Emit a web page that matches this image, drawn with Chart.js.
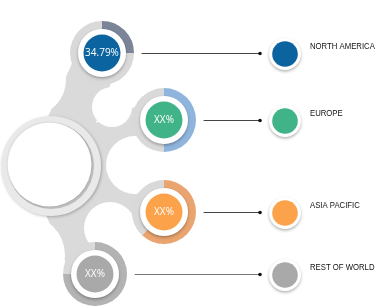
<!DOCTYPE html>
<html>
<head>
<meta charset="utf-8">
<script src="https://cdn.jsdelivr.net/npm/chart.js@4"></script>
<style>
  html, body { margin: 0; padding: 0; background: #fff; }
  #wrap { position: relative; width: 391px; height: 306px; overflow: hidden; }
  #wrap canvas { position: absolute; }
</style>
</head>
<body>
<div id="wrap">
  <canvas id="bg" width="391" height="306" style="left:0;top:0"></canvas>
</div>
<script>
// regions of the infographic
const regions = ['NORTH AMERICA', 'EUROPE', 'ASIA PACIFIC', 'REST OF WORLD'];
// text inside each bubble
const shareLabels = ['34.79%', 'XX%', 'XX%', 'XX%'];
// filled part of each ring, percent
const ringValues = [25, 50, 62, 75];

// styles
const fillColors = ['#0b64a0', '#40b389', '#fca24b', '#a9a9a9'];
const arcColors = ['#7b8597', '#8fb5dd', '#e9a46f', '#b3b3b3'];
const restColor = '#d9d9d9';
const linkColor = '#dadada';

// layout (pixels)
const nodes = [{x: 102, y: 53}, {x: 164, y: 120}, {x: 164, y: 212}, {x: 95, y: 274}];
const hub = {x: 51, y: 166, r: 50, inner: 42};
const bites = [
    {x: 30, y: 80, r: 36},
    {x: 112, y: 107, r: 20},
    {x: 125, y: 91, r: 16},
    {x: 135, y: 165, r: 29},
    {x: 110, y: 228, r: 26},
    {x: 25, y: 255, r: 40}
];
const dotX = 260, legendX = 285, labelX = 310;

function circle(ctx, x, y, r, color) {
    ctx.beginPath();
    ctx.arc(x, y, r, 0, Math.PI * 2);
    ctx.fillStyle = color;
    ctx.fill();
}

// background: links, hub, leader lines, legend
const backdrop = {
    id: 'backdrop',
    beforeDraw(chart) {
        const ctx = chart.ctx;
        ctx.save();

        // links from hub to each bubble
        ctx.strokeStyle = linkColor;
        ctx.lineWidth = 46;
        ctx.lineCap = 'round';
        nodes.forEach(n => {
            ctx.beginPath();
            ctx.moveTo(hub.x, hub.y);
            ctx.lineTo(n.x, n.y);
            ctx.stroke();
        });
        bites.forEach(b => circle(ctx, b.x, b.y, b.r, '#fff'));

        // hub
        ctx.save();
        ctx.shadowColor = 'rgba(0,0,0,0.25)';
        ctx.shadowBlur = 3;
        ctx.shadowOffsetX = 1;
        ctx.shadowOffsetY = 1;
        circle(ctx, hub.x, hub.y, hub.r, '#e9e9e9');
        ctx.restore();
        circle(ctx, hub.x, hub.y, hub.inner + 1, '#bdbdbd');
        ctx.save();
        ctx.shadowColor = 'rgba(0,0,0,0.2)';
        ctx.shadowBlur = 2;
        circle(ctx, hub.x - 1.5, hub.y - 1.5, hub.inner, '#fff');
        ctx.restore();

        // leader lines and legend
        regions.forEach((name, i) => {
            const n = nodes[i];
            ctx.strokeStyle = i === 3 ? '#777' : '#444';
            ctx.lineWidth = 1;
            ctx.beginPath();
            ctx.moveTo(n.x + 40, n.y + 0.5);
            ctx.lineTo(dotX, n.y + 0.5);
            ctx.stroke();
            circle(ctx, dotX, n.y + 0.5, 1.8, '#111');

            ctx.save();
            ctx.shadowColor = 'rgba(0,0,0,0.3)';
            ctx.shadowBlur = 3;
            ctx.shadowOffsetY = 1.5;
            circle(ctx, legendX, n.y + 1, 16, '#fff');
            ctx.restore();
            circle(ctx, legendX, n.y + 1, 12.8, fillColors[i]);

            // narrow label
            ctx.save();
            ctx.translate(labelX, n.y - 6);
            ctx.scale(0.86, 1);
            ctx.fillStyle = '#111';
            ctx.font = '9px "Liberation Sans", sans-serif';
            ctx.textAlign = 'left';
            ctx.textBaseline = 'middle';
            ctx.fillText(name, 0, 0);
            ctx.restore();
        });
        ctx.restore();
    }
};

new Chart(document.getElementById('bg'), {
    type: 'scatter',
    data: {datasets: []},
    options: {
        responsive: false,
        animation: false,
        scales: {x: {display: false}, y: {display: false}},
        plugins: {legend: {display: false}, tooltip: {enabled: false}}
    },
    plugins: [backdrop]
});

// one ring per region
const wrap = document.getElementById('wrap');
nodes.forEach((n, i) => {
    const c = document.createElement('canvas');
    c.width = 70;
    c.height = 70;
    c.style.left = (n.x - 35) + 'px';
    c.style.top = (n.y - 35) + 'px';
    wrap.appendChild(c);

    new Chart(c, {
        type: 'doughnut',
        data: {
            labels: [regions[i], 'rest'],
            datasets: [{
                data: [ringValues[i], 100 - ringValues[i]],
                backgroundColor: [arcColors[i], restColor],
                borderWidth: 0
            }]
        },
        options: {
            responsive: false,
            animation: false,
            cutout: '74%',
            layout: {padding: 3},
            plugins: {legend: {display: false}, tooltip: {enabled: false}}
        },
        plugins: [{
            id: 'bubble',
            afterDraw(chart) {
                const ctx = chart.ctx;
                const meta = chart.getDatasetMeta(0).data[0];
                const cx = meta.x, cy = meta.y;
                ctx.save();
                ctx.shadowColor = 'rgba(0,0,0,0.3)';
                ctx.shadowBlur = 3;
                ctx.shadowOffsetY = 1.5;
                circle(ctx, cx, cy, 24, '#fff');
                ctx.restore();
                circle(ctx, cx, cy, 18.5, fillColors[i]);
                ctx.fillStyle = '#fff';
                ctx.font = '10px "Open Sans", sans-serif';
                ctx.textAlign = 'center';
                ctx.textBaseline = 'middle';
                ctx.fillText(shareLabels[i], cx, cy + 0.5);
            }
        }]
    });
});
</script>
</body>
</html>
